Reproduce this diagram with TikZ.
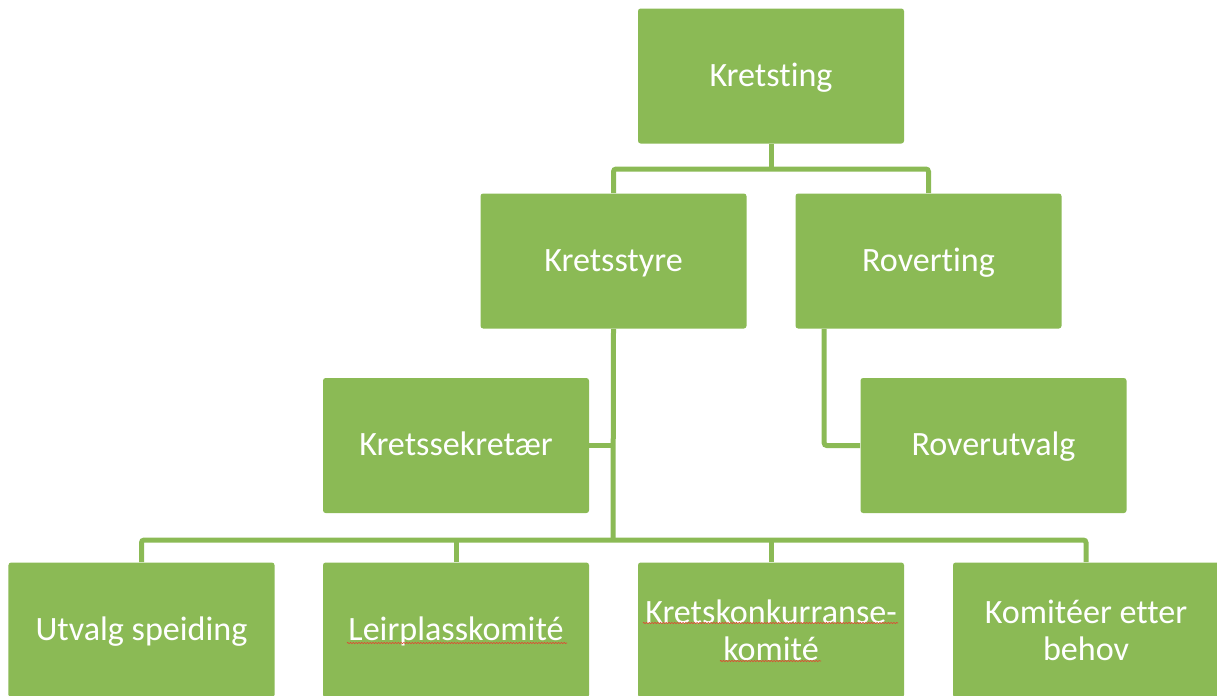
\documentclass[tikz,border=0pt]{standalone}
\usepackage{fontspec}
\setmainfont[Ligatures={NoCommon}]{Carlito}
\usetikzlibrary{decorations.pathmorphing}
\definecolor{boxgreen}{RGB}{139,186,85}
\definecolor{spellred}{RGB}{225,70,50}
\tikzset{
    orgbox/.style={fill=boxgreen, rounded corners=1.5pt, minimum width=5.32cm, minimum height=2.7cm,
        text=white, align=center, font=\fontsize{19.4}{21}\selectfont},
    oneline/.style={orgbox, text height=0.6cm, text depth=0.2cm},
    orgline/.style={draw=boxgreen, line width=0.1cm, rounded corners=1.5pt},
    spellmark/.style={draw=spellred, line width=0.35pt, decorate,
        decoration={zigzag, amplitude=0.35pt, segment length=1.6pt}}
}
\begin{document}
\begin{tikzpicture}
    \useasboundingbox (0,0) rectangle (24.34,-13.9);

    % Nodes
    \node at (15.42, -1.52) (kretsting) [oneline] {Kretsting};
    \node at (12.27, -5.22) (kretsstyre) [oneline] {Kretsstyre};
    \node at (18.57, -5.22) (roverting) [oneline] {Roverting};
    \node at (9.12, -8.91) (sekretaer) [oneline] {Kretssekretær};
    \node at (19.87, -8.91) (roverutvalg) [oneline] {Roverutvalg};
    \node at (2.83, -12.6) (speiding) [oneline] {Utvalg speiding};
    \node at (9.12, -12.6) (leirplass) [oneline] {Leirplasskomité};
    \node at (15.42, -12.6) (konkurranse) [orgbox] {Kretskonkurranse-\\komité};
    \node at (21.72, -12.6) (etterbehov) [orgbox] {Komitéer etter\\behov};

    \coordinate (topbus) at (15.42, -3.38);
    \coordinate (bottombus) at (12.26, -10.8);

    % Lines
    \draw[orgline] (kretsting.south) -- (topbus);
    \draw[orgline] (kretsstyre.north) |- (topbus) -| (roverting.north);
    \draw[orgline] (kretsstyre.south) -- (bottombus);
    \draw[orgline] (sekretaer.east) -- (sekretaer.east -| bottombus);
    \draw[orgline] ([xshift=0.58cm]roverting.south west) |- (roverutvalg.west);
    \draw[orgline] (speiding.north) |- (bottombus) -| (etterbehov.north);
    \draw[orgline] (leirplass.north) -- (leirplass.north |- bottombus);
    \draw[orgline] (konkurranse.north) -- (konkurranse.north |- bottombus);

    % Spelling marks
    \draw[spellmark] ([shift={(-2.18,-0.26)}]leirplass.center) -- ([shift={(2.22,-0.26)}]leirplass.center);
    \draw[spellmark] ([shift={(-2.56,0.14)}]konkurranse.center) -- ([shift={(2.54,0.14)}]konkurranse.center);
    \draw[spellmark] ([shift={(-1.02,-0.62)}]konkurranse.center) -- ([shift={(1.0,-0.62)}]konkurranse.center);

\end{tikzpicture}
\end{document}
